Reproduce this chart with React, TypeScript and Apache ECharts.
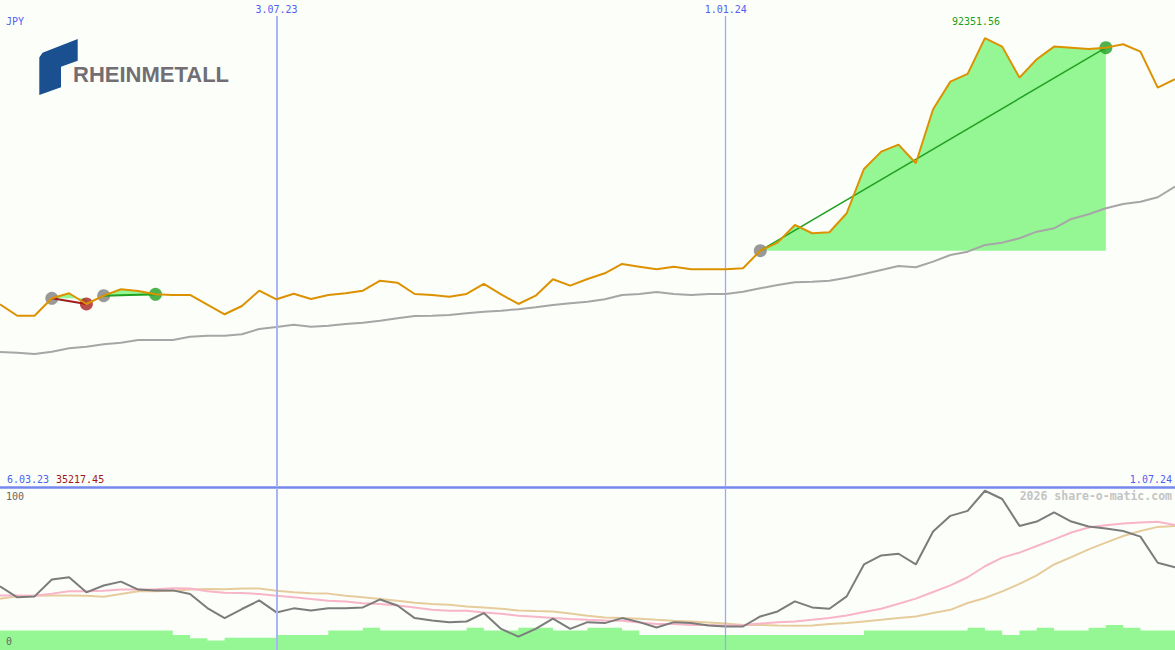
import React, { useEffect, useRef } from "react";
import * as echarts from "echarts";

// ---- data (weekly points, index 0..68) ----
const currency = "JPY";
const startLabel = "6.03.23";
const endLabel = "1.07.24";
const minLabel = "35217.45";
const maxLabel = "92351.56";
const dateMarks = [
  { index: 16, label: "3.07.23", width: 2, color: "#a8b4f4" },
  { index: 42, label: "1.01.24", width: 1.3, color: "#9aaaf6" },
];

const price = [
  37590, 35230, 35217.45, 38830, 39860, 37650, 39360, 40680, 40330, 39650,
  39510, 39510, 37510, 35540, 37240, 40390, 38620, 39770, 38680, 39510,
  39860, 40390, 42450, 42040, 39710, 39510, 39160, 39710, 41770, 39650,
  37650, 39360, 42740, 41420, 42800, 43970, 45880, 45330, 44790, 45330,
  44790, 44790, 44790, 45000, 48620, 50270, 53910, 52200, 52410, 56320,
  65430, 68990, 70430, 66600, 77720, 83400, 84980, 92351.56, 90600, 84220,
  88000, 90600, 90390, 90120, 90390, 91090, 89570, 82160, 83890,
];

const priceAvg = [
  27780, 27630, 27370, 27840, 28540, 28870, 29360, 29690, 30250, 30250,
  30250, 30930, 31130, 31130, 31420, 32510, 32920, 33400, 32980, 33190,
  33540, 33810, 34220, 34710, 35190, 35250, 35390, 35740, 36070, 36280,
  36560, 36970, 37450, 37800, 38130, 38620, 39510, 39710, 40120, 39710,
  39510, 39710, 39710, 40190, 40880, 41560, 42120, 42240, 42450, 43070,
  43830, 44650, 45470, 45210, 46360, 47740, 48420, 49790, 50270, 51170,
  52530, 53230, 55140, 56110, 57350, 58230, 58700, 59610, 61790,
];

const oscillator = [
  39.3, 32.5, 33.1, 43.5, 44.9, 35.6, 39.8, 42.2, 37.3, 36.8,
  36.8, 34.6, 25.9, 19.7, 25.3, 30.6, 23.2, 25.7, 24.4, 25.7,
  25.7, 26.3, 31.2, 27.5, 19.7, 18.2, 17.2, 17.6, 22.8, 13.0,
  8.3, 13.0, 19.3, 13.0, 17.2, 16.6, 19.7, 17.2, 13.9, 17.2,
  16.6, 15.1, 14.5, 14.5, 20.7, 23.8, 30.0, 26.3, 25.5, 33.1,
  52.8, 58.4, 59.4, 52.8, 73.1, 82.8, 85.9, 98.3, 93.2, 76.6,
  79.3, 84.9, 79.3, 76.2, 75.0, 73.5, 70.0, 53.9, 51.1,
];

const oscFast = [
  33.7, 33.7, 33.5, 34.8, 36.2, 36.2, 36.6, 37.3, 37.3, 37.5,
  38.1, 37.9, 36.2, 35.4, 35.2, 34.6, 33.5, 32.5, 31.5, 30.4,
  30.0, 28.8, 28.4, 27.5, 26.3, 24.8, 24.2, 24.2, 23.2, 22.4,
  21.1, 20.5, 19.7, 19.1, 18.6, 18.2, 18.0, 17.0, 16.1, 16.0,
  15.5, 15.5, 15.1, 15.5, 16.3, 17.2, 17.6, 18.6, 19.7, 21.3,
  23.4, 25.5, 28.6, 31.7, 35.8, 39.9, 44.9, 51.7, 57.0, 60.1,
  64.2, 68.3, 72.5, 75.6, 77.0, 78.1, 78.7, 79.1, 77.2,
];

const oscSlow = [
  31.7, 33.1, 33.5, 33.7, 33.7, 33.5, 32.9, 34.6, 36.2, 36.2,
  36.6, 37.3, 37.7, 37.5, 37.9, 37.9, 36.6, 35.6, 35.0, 34.8,
  33.5, 32.5, 31.5, 30.4, 29.2, 28.4, 28.0, 26.9, 26.3, 25.5,
  24.4, 24.0, 23.8, 22.5, 21.2, 20.1, 19.7, 19.3, 18.6, 18.0,
  17.6, 17.0, 16.3, 15.5, 15.5, 15.1, 14.9, 15.1, 16.0, 16.6,
  17.6, 18.6, 19.7, 20.7, 22.8, 24.8, 29.0, 32.1, 36.2, 40.8,
  46.1, 52.8, 57.3, 62.1, 66.3, 70.4, 73.5, 76.0, 76.6,
];

const volume = [
  12, 12, 12, 12, 12, 12, 12, 12, 12, 12,
  9.3, 7.3, 5.8, 7.5, 7.5, 7.5, 9.3, 9.3, 9.3, 12,
  12, 13.7, 12, 12, 12, 12, 12, 13.7, 12, 12,
  13.7, 13.7, 12, 12, 13.7, 13.7, 12, 9.3, 9.3, 9.3,
  9.3, 9.3, 9.3, 9.3, 9.3, 9.3, 9.3, 9.3, 9.3, 9.3,
  12, 12, 12, 12, 12, 12, 13.7, 12, 9.3, 12,
  13.7, 12, 12, 13.7, 15.5, 13.7, 12, 12, 12,
];

const trades = [
  { entry: 3, exit: 5, win: false },
  { entry: 6, exit: 9, win: true },
  { entry: 44, exit: 64, win: true },
];

const pts = (arr: number[]) => arr.map((v, i) => [i, v]);

const MONO = '"DejaVu Sans Mono", monospace';
const BLUE_TXT = "#5060f0";

function txt(text: string, x: number, y: number, fill: string, align = "left", font = `10px ${MONO}`) {
  return {
    type: "text",
    x,
    y,
    silent: true,
    z: 100,
    style: { text, fill, font, align, verticalAlign: "middle", textAlign: align, textVerticalAlign: "middle" },
  };
}

export default function App() {
  const ref = useRef<HTMLDivElement>(null);
  useEffect(() => {
    document.body.style.margin = "0";
    const chart = echarts.init(ref.current as HTMLDivElement, null, { renderer: "svg" });

    const series: any[] = [];

    // vertical date lines, top panel (with labels)
    series.push({
      type: "line",
      xAxisIndex: 0,
      yAxisIndex: 0,
      data: [[0, 0]],
      symbol: "none",
      lineStyle: { opacity: 0 },
      silent: true,
      z: 0,
      markLine: {
        silent: true,
        symbol: ["none", "none"],
        animation: false,
        label: {
          show: true,
          position: "end",
          color: BLUE_TXT,
          fontFamily: MONO,
          fontSize: 10,
          distance: 2,
        },
        data: dateMarks.map((d) => ({
          xAxis: d.index,
          lineStyle: { color: d.color, width: d.width, type: "solid", opacity: 1 },
          label: { formatter: d.label },
        })),
      },
    });

    // trade fills
    trades.forEach((t) => {
      series.push({
        type: "line",
        xAxisIndex: 0,
        yAxisIndex: 0,
        data: price.slice(t.entry, t.exit + 1).map((v, k) => [t.entry + k, v]),
        symbol: "none",
        lineStyle: { width: 0 },
        areaStyle: { color: "#94f794", opacity: 1, origin: price[t.entry] },
        silent: true,
        z: 1,
      });
    });

    // moving average
    series.push({
      type: "line",
      xAxisIndex: 0,
      yAxisIndex: 0,
      data: pts(priceAvg),
      symbol: "none",
      lineStyle: { color: "#a6a6a6", width: 2 },
      silent: true,
      z: 2,
    });

    // trade dots
    const dots: any[] = [];
    trades.forEach((t) => {
      dots.push({ value: [t.entry, price[t.entry]], itemStyle: { color: "#808080" } });
      dots.push({ value: [t.exit, price[t.exit]], itemStyle: { color: t.win ? "#22a022" : "#a82020" } });
    });
    series.push({
      type: "scatter",
      xAxisIndex: 0,
      yAxisIndex: 0,
      data: dots,
      symbol: "circle",
      symbolSize: 13,
      silent: true,
      z: 3,
    });

    // trade lines
    trades.forEach((t) => {
      series.push({
        type: "line",
        xAxisIndex: 0,
        yAxisIndex: 0,
        data: [
          [t.entry, price[t.entry]],
          [t.exit, price[t.exit]],
        ],
        symbol: "none",
        lineStyle: { color: t.win ? "#22a022" : "#a01c1c", width: t.entry === 44 ? 1.5 : 2 },
        silent: true,
        z: 4,
      });
    });

    // price
    series.push({
      type: "line",
      xAxisIndex: 0,
      yAxisIndex: 0,
      data: pts(price),
      symbol: "none",
      lineStyle: { color: "#dc9200", width: 2 },
      silent: true,
      z: 5,
    });

    // lower panel date lines
    series.push({
      type: "line",
      xAxisIndex: 1,
      yAxisIndex: 1,
      data: [[0, 0]],
      symbol: "none",
      lineStyle: { opacity: 0 },
      silent: true,
      z: 0,
      markLine: {
        silent: true,
        symbol: ["none", "none"],
        animation: false,
        label: { show: false },
        data: dateMarks.map((d) => ({
          xAxis: d.index,
          lineStyle: { color: d.color, width: d.width, type: "solid", opacity: 1 },
        })),
      },
    });

    // volume steps
    series.push({
      type: "line",
      xAxisIndex: 1,
      yAxisIndex: 1,
      data: pts(volume),
      step: "end",
      symbol: "none",
      lineStyle: { width: 0 },
      areaStyle: { color: "#94f794", opacity: 1 },
      silent: true,
      z: 1,
    });

    series.push({
      type: "line",
      xAxisIndex: 1,
      yAxisIndex: 1,
      data: pts(oscSlow),
      symbol: "none",
      lineStyle: { color: "#e6cc9c", width: 2 },
      silent: true,
      z: 2,
    });
    series.push({
      type: "line",
      xAxisIndex: 1,
      yAxisIndex: 1,
      data: pts(oscFast),
      symbol: "none",
      lineStyle: { color: "#f8b4c8", width: 2 },
      silent: true,
      z: 3,
    });
    series.push({
      type: "line",
      xAxisIndex: 1,
      yAxisIndex: 1,
      data: pts(oscillator),
      symbol: "none",
      lineStyle: { color: "#7c7c7c", width: 2 },
      silent: true,
      z: 4,
    });

    const option: any = {
      animation: false,
      backgroundColor: "#fcfefa",
      grid: [
        { left: 0, right: 0, top: 16, height: 471 },
        { left: 0, right: 0, top: 488, height: 162 },
      ],
      xAxis: [
        {
          gridIndex: 0,
          type: "value",
          min: 0,
          max: 68,
          position: "bottom",
          axisLine: { show: true, onZero: false, lineStyle: { color: "#7688ee", width: 2.5 } },
          axisTick: { show: false },
          axisLabel: { show: false },
          splitLine: { show: false },
        },
        { gridIndex: 1, type: "value", min: 0, max: 68, show: false, splitLine: { show: false } },
      ],
      yAxis: [
        { gridIndex: 0, type: "value", min: 0, max: 96900, show: false, splitLine: { show: false } },
        { gridIndex: 1, type: "value", min: 0, max: 100, show: false, splitLine: { show: false } },
      ],
      series,
      graphic: [
        {
          type: "polygon",
          silent: true,
          shape: {
            points: [
              [39.3, 57.5],
              [42.5, 52.8],
              [77.7, 39],
              [77.7, 60.7],
              [61, 66.7],
              [61, 87.3],
              [39.3, 95],
            ],
          },
          style: { fill: "#1a5090" },
        },
        txt("RHEINMETALL", 73, 74, "#726e74", "left", `bold 22px "Liberation Sans", Arial, sans-serif`),
        txt(currency, 6, 21, BLUE_TXT),
        txt(maxLabel, 976, 21, "#20a020", "center"),
        txt(startLabel, 7, 479, BLUE_TXT),
        txt(minLabel, 56, 479, "#a01818"),
        txt(endLabel, 1172, 479, BLUE_TXT, "right"),
        txt("100", 6, 496, "#666666"),
        txt("0", 6, 641, "#666666"),
        txt("2026 share-o-matic.com", 1172, 496, "#c4c4c4", "right", `bold 11.5px ${MONO}`),
      ],
    };

    chart.setOption(option);
    return () => chart.dispose();
  }, []);
  return <div ref={ref} style={{ width: 1175, height: 650 }} />;
}
